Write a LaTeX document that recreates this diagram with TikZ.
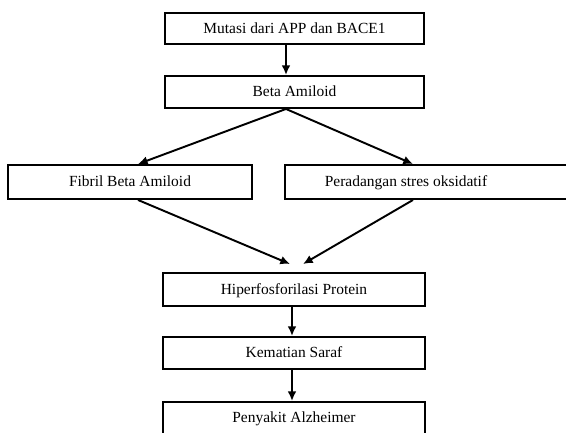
\documentclass[tikz,border=0pt]{standalone}
\usepackage{fontspec}
\setmainfont{Liberation Serif}
\usepackage{tikz}
\usetikzlibrary{arrows.meta}
\tikzset{
	>={Latex[length=5.5pt,width=5pt]},
	box/.style = {
			draw,
			line width = 1.1pt,
			inner sep = 2pt,
			minimum height = 0.64cm,
			text height = 1.6ex,
			text depth = 0.4ex,
			font = \fontsize{8.8}{10}\selectfont,
		},
	boxtext/.style = {
			font = \fontsize{8.8}{10}\selectfont,
			text height = 1.6ex,
			text depth = 0.4ex,
		},
	flow/.style = {->, line width = 1.1pt},
}

\begin{document}
\begin{tikzpicture}[x=0.02cm,y=-0.02cm]
        \clip (0,0) rectangle (566,433);
        \node[box, minimum width=5.18cm, minimum height=0.62cm] at (294.5,28.5) (mutasi) {Mutasi dari APP dan BACE1};
        \node[box, minimum width=5.18cm] at (294.5,92) (beta) {Beta Amiloid};
        \node[box, minimum width=4.88cm, minimum height=0.68cm] at (130,182) (fibril) {Fibril Beta Amiloid};
        \node[box, minimum width=6.1cm, minimum height=0.68cm,
              label={[boxtext, xshift=-0.63cm]center:Peradangan stres oksidatif}] at (437.5,182) (radang) {};
        \node[box, minimum width=5.24cm, minimum height=0.66cm] at (294,289.5) (hiper) {Hiperfosforilasi Protein};
        \node[box, minimum width=5.24cm] at (294,353) (mati) {Kematian Saraf};
        \node[box, minimum width=5.24cm] at (294,418) (alz) {Penyakit Alzheimer};
        \draw[flow] ([xshift=-0.17cm]mutasi.south) -- ([xshift=-0.17cm]beta.north);
        \draw[flow] ([xshift=-0.17cm]beta.south) -- ([xshift=0.16cm]fibril.north);
        \draw[flow] ([xshift=-0.17cm]beta.south) -- ([xshift=-0.49cm]radang.north);
        \draw[flow] ([xshift=0.16cm]fibril.south) -- ([xshift=-0.08cm,yshift=0.16cm]hiper.north);
        \draw[flow] ([xshift=-0.49cm]radang.south) -- ([xshift=0.18cm,yshift=0.16cm]hiper.north);
        \draw[flow] ([xshift=-0.04cm]hiper.south) -- ([xshift=-0.04cm]mati.north);
        \draw[flow] ([xshift=-0.04cm]mati.south) -- ([xshift=-0.04cm]alz.north);
      \end{tikzpicture}
\end{document}
